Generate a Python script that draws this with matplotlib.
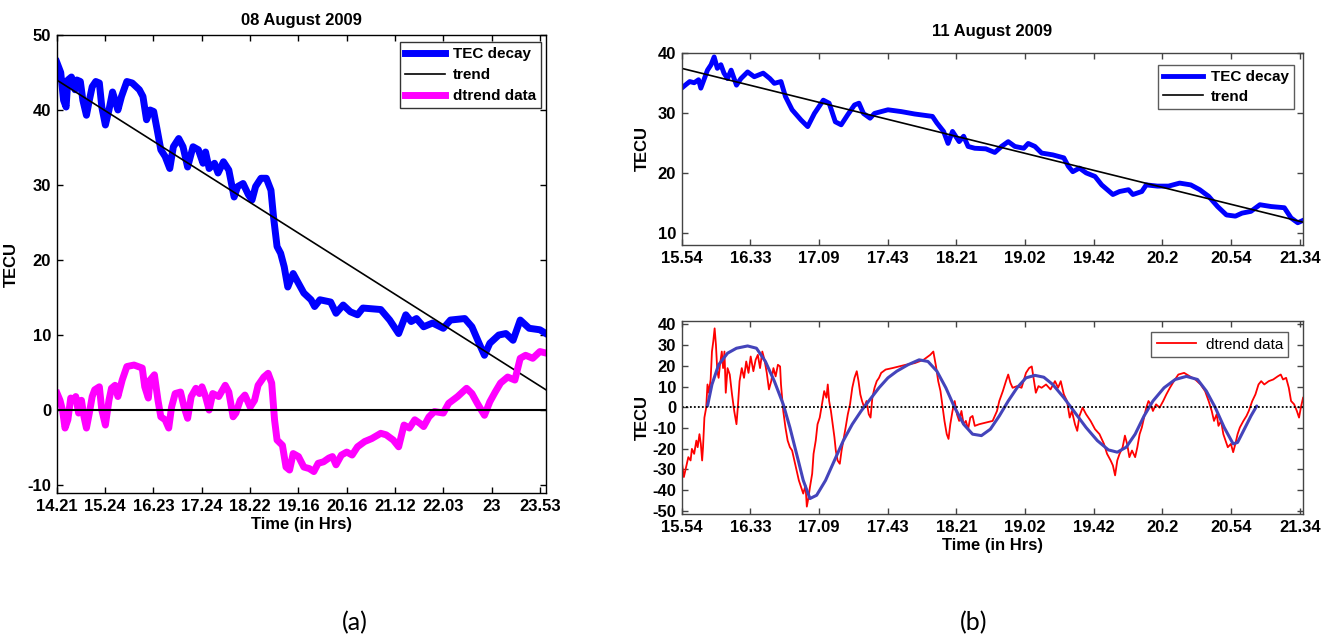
import numpy as np
import matplotlib.pyplot as plt

plt.rcParams['font.family'] = ['Liberation Sans', 'DejaVu Sans']
plt.rcParams['font.weight'] = 'bold'
plt.rcParams['axes.unicode_minus'] = False

# ---- 08 August 2009 (x in tick-index units) ----
ticks_a = ['14.21', '15.24', '16.23', '17.24', '18.22', '19.16', '20.16',
           '21.12', '22.03', '23', '23.53']

tec_a_t = [0.0, 0.083, 0.142, 0.194, 0.231, 0.305, 0.379, 0.416, 0.489, 0.541,
           0.615, 0.675, 0.734, 0.808, 0.882, 0.933, 1.007, 1.081, 1.155, 1.207,
           1.266, 1.340, 1.451, 1.562, 1.710, 1.784, 1.858, 1.932, 2.006, 2.080,
           2.154, 2.243, 2.339, 2.413, 2.524, 2.613, 2.708, 2.820, 2.930, 3.027,
           3.079, 3.153, 3.264, 3.337, 3.449, 3.560, 3.670, 3.744, 3.855, 3.966,
           4.040, 4.114, 4.225, 4.336, 4.432, 4.484, 4.558, 4.632, 4.706, 4.780,
           4.891, 5.001, 5.112, 5.261, 5.335, 5.445, 5.667, 5.778, 5.926, 6.074,
           6.222, 6.333, 6.703, 6.888, 7.073, 7.221, 7.332, 7.442, 7.590, 7.775,
           7.997, 8.145, 8.441, 8.589, 8.737, 8.848, 8.959, 9.144, 9.292, 9.440,
           9.588, 9.773, 9.995, 10.12]
tec_a = [46.4, 45.0, 41.3, 40.4, 44.0, 44.4, 42.7, 44.0, 43.8, 41.3,
         39.3, 41.3, 43.1, 43.8, 43.6, 40.4, 38.0, 40.0, 42.4, 41.3,
         40.0, 41.8, 43.8, 43.6, 42.7, 41.8, 38.7, 40.0, 39.8, 37.3,
         34.7, 33.8, 32.2, 35.1, 36.2, 35.1, 32.4, 35.1, 34.7, 32.9,
         34.4, 32.2, 32.9, 31.6, 33.1, 32.0, 28.4, 29.8, 30.2, 28.7,
         28.0, 29.8, 30.9, 30.9, 29.3, 25.8, 21.8, 20.9, 19.1, 16.4,
         18.2, 16.9, 15.6, 14.7, 13.8, 14.7, 14.4, 12.9, 14.0, 13.1,
         12.7, 13.6, 13.4, 12.0, 10.2, 12.7, 11.8, 12.2, 11.1, 11.6,
         10.9, 12.0, 12.2, 11.1, 8.9, 7.3, 8.9, 10.0, 10.2, 9.3,
         12.0, 10.9, 10.7, 10.2]

trend_a_t = [0.0, 10.12]
trend_a = [44.0, 2.7]

dtr_a_t = [0.01, 0.068, 0.12, 0.172, 0.231, 0.29, 0.342, 0.394, 0.453, 0.512,
           0.564, 0.615, 0.675, 0.734, 0.786, 0.882, 0.933, 1.007, 1.081, 1.133,
           1.207, 1.266, 1.355, 1.451, 1.599, 1.769, 1.821, 1.895, 1.932, 2.021,
           2.095, 2.154, 2.243, 2.317, 2.376, 2.450, 2.561, 2.635, 2.708, 2.782,
           2.879, 2.953, 3.005, 3.079, 3.153, 3.227, 3.352, 3.486, 3.560, 3.649,
           3.707, 3.796, 3.893, 4.003, 4.092, 4.166, 4.284, 4.373, 4.447, 4.506,
           4.558, 4.669, 4.743, 4.817, 4.891, 5.001, 5.112, 5.223, 5.319, 5.408,
           5.519, 5.630, 5.704, 5.778, 5.889, 6.0, 6.111, 6.222, 6.370, 6.518,
           6.703, 6.814, 6.962, 7.073, 7.184, 7.295, 7.407, 7.518, 7.59, 7.701,
           7.812, 7.997, 8.108, 8.293, 8.478, 8.589, 8.7, 8.848, 8.959, 9.07,
           9.181, 9.329, 9.477, 9.588, 9.699, 9.847, 9.995, 10.12]
dtr_a = [2.2, 1.3, 0.0, -2.4, -1.3, 1.6, 1.3, 1.8, -0.4, 1.3,
         -0.9, -2.4, -0.4, 1.8, 2.7, 3.1, 0.0, -2.0, 1.3, 2.9,
         3.3, 1.8, 4.0, 5.8, 6.0, 5.6, 3.1, 1.6, 4.0, 4.7,
         1.3, -0.9, -1.3, -2.4, 0.4, 2.2, 2.4, 0.4, -1.1, 1.8,
         2.9, 2.2, 3.1, 1.8, 0.0, 2.2, 1.8, 3.3, 2.4, -0.9,
         -0.4, 1.3, 2.0, 0.4, 1.3, 3.3, 4.4, 4.9, 3.6, -1.3,
         -4.0, -4.7, -7.6, -8.0, -5.8, -6.2, -7.6, -7.8, -8.2, -7.1,
         -6.9, -6.4, -6.2, -7.3, -6.0, -5.6, -6.0, -4.9, -4.2, -3.8,
         -3.1, -3.3, -4.0, -4.9, -2.0, -2.4, -1.3, -1.8, -2.2, -0.9,
         -0.2, -0.4, 0.9, 1.8, 2.9, 2.2, 0.9, -0.7, 1.1, 2.4,
         3.6, 4.4, 4.0, 6.9, 7.3, 6.9, 7.8, 7.6]

# ---- 11 August 2009 ----
ticks_b = ['15.54', '16.33', '17.09', '17.43', '18.21', '19.02', '19.42',
           '20.2', '20.54', '21.34']

tec_b_t = [0.0, 0.052, 0.117, 0.182, 0.246, 0.279, 0.331, 0.376, 0.428, 0.473,
           0.519, 0.571, 0.616, 0.668, 0.720, 0.798, 0.863, 0.960, 1.057, 1.187,
           1.284, 1.349, 1.446, 1.511, 1.608, 1.738, 1.835, 1.933, 2.062, 2.147,
           2.237, 2.322, 2.419, 2.516, 2.581, 2.646, 2.743, 2.808, 2.905, 3.003,
           3.197, 3.392, 3.651, 3.716, 3.813, 3.878, 3.943, 4.040, 4.105, 4.170,
           4.267, 4.429, 4.559, 4.656, 4.754, 4.851, 4.981, 5.045, 5.143, 5.240,
           5.402, 5.564, 5.629, 5.694, 5.791, 5.888, 6.018, 6.115, 6.278, 6.375,
           6.505, 6.569, 6.699, 6.764, 6.926, 7.088, 7.250, 7.412, 7.542, 7.672,
           7.802, 7.931, 8.061, 8.158, 8.288, 8.418, 8.580, 8.774, 8.872, 8.969,
           9.047]
tec_b = [34.1, 34.6, 35.2, 35.0, 35.5, 34.1, 35.7, 37.1, 38.0, 39.3,
         37.4, 38.0, 36.6, 35.7, 37.1, 34.6, 35.7, 36.8, 36.0, 36.6,
         35.7, 34.9, 35.2, 32.7, 30.5, 28.8, 27.7, 29.9, 32.1, 31.6,
         28.5, 28.0, 29.7, 31.3, 31.6, 29.9, 29.1, 29.9, 30.2, 30.5,
         30.2, 29.8, 29.4, 28.3, 26.9, 24.9, 26.9, 25.2, 26.1, 24.4,
         24.1, 24.0, 23.4, 24.4, 25.2, 24.4, 24.1, 24.9, 24.4, 23.3,
         23.0, 22.5, 21.1, 20.2, 20.8, 20.0, 19.4, 18.0, 16.4, 16.9,
         17.2, 16.4, 16.9, 18.0, 17.8, 17.8, 18.3, 18.0, 17.2, 16.1,
         14.4, 13.0, 12.8, 13.3, 13.6, 14.7, 14.4, 14.2, 12.5, 11.7,
         12.1]

trend_b_t = [0.0, 9.047]
trend_b = [37.4, 11.8]

dtr_b_t = [0.000, 0.032, 0.065, 0.097, 0.130, 0.149, 0.182, 0.214, 0.233, 0.259,
           0.279, 0.298, 0.311, 0.331, 0.357, 0.376, 0.396, 0.422, 0.441, 0.460,
           0.480, 0.499, 0.519, 0.538, 0.558, 0.584, 0.603, 0.623, 0.642, 0.668,
           0.700, 0.733, 0.765, 0.798, 0.817, 0.843, 0.875, 0.908, 0.940, 0.973,
           1.005, 1.044, 1.077, 1.109, 1.141, 1.174, 1.206, 1.239, 1.271, 1.304,
           1.336, 1.368, 1.401, 1.433, 1.446, 1.479, 1.511, 1.543, 1.576, 1.608,
           1.641, 1.673, 1.706, 1.738, 1.770, 1.803, 1.822, 1.848, 1.868, 1.900,
           1.920, 1.952, 1.978, 2.010, 2.043, 2.075, 2.108, 2.127, 2.147, 2.173,
           2.198, 2.224, 2.244, 2.270, 2.302, 2.328, 2.354, 2.387, 2.419, 2.451,
           2.484, 2.516, 2.549, 2.575, 2.601, 2.626, 2.659, 2.691, 2.724, 2.750,
           2.776, 2.808, 2.840, 2.873, 2.905, 2.970, 3.067, 3.165, 3.262, 3.392,
           3.521, 3.619, 3.664, 3.703, 3.735, 3.768, 3.800, 3.826, 3.859, 3.885,
           3.911, 3.943, 3.975, 4.008, 4.040, 4.073, 4.105, 4.137, 4.170, 4.202,
           4.235, 4.267, 4.332, 4.429, 4.527, 4.591, 4.624, 4.676, 4.721, 4.754,
           4.786, 4.818, 4.883, 4.948, 5.013, 5.058, 5.097, 5.130, 5.156, 5.195,
           5.240, 5.305, 5.370, 5.435, 5.480, 5.519, 5.564, 5.610, 5.649, 5.681,
           5.726, 5.759, 5.791, 5.837, 5.888, 5.953, 6.018, 6.083, 6.148, 6.193,
           6.245, 6.278, 6.310, 6.342, 6.375, 6.420, 6.453, 6.485, 6.518, 6.556,
           6.602, 6.634, 6.667, 6.699, 6.732, 6.764, 6.796, 6.829, 6.861, 6.907,
           6.958, 7.010, 7.056, 7.108, 7.166, 7.231, 7.315, 7.399, 7.477, 7.555,
           7.620, 7.672, 7.717, 7.750, 7.789, 7.815, 7.853, 7.886, 7.918, 7.951,
           7.996, 8.029, 8.061, 8.093, 8.126, 8.178, 8.223, 8.256, 8.307, 8.353,
           8.398, 8.437, 8.482, 8.547, 8.612, 8.677, 8.722, 8.755, 8.800, 8.839,
           8.872, 8.917, 8.956, 8.988, 9.014, 9.047]
dtr_b = [-25.7, -33.7, -28.9, -24.1, -25.7, -20.1, -22.5, -16.1, -19.3, -13.0,
         -17.7, -25.7, -19.3, -5.0, -0.2, 11.0, 7.0, 13.4, 26.9, 31.7,
         38.1, 30.1, 17.4, 14.2, 20.5, 26.9, 18.9, 26.9, 7.0, 18.9,
         15.8, 6.2, -1.8, -8.2, -0.2, 12.6, 18.9, 14.2, 22.1, 16.6,
         24.5, 17.4, 22.9, 25.3, 18.9, 26.9, 22.9, 16.6, 8.6, 12.6,
         18.9, 14.9, 20.5, 19.7, 11.0, -1.8, -9.8, -16.1, -19.3, -20.9,
         -25.7, -30.5, -35.3, -38.5, -41.7, -37.7, -48.0, -43.3, -38.5, -32.1,
         -22.5, -16.1, -8.2, -5.0, 1.4, 7.8, 4.6, 11.0, 3.0, -1.8,
         -8.2, -14.5, -20.9, -25.7, -27.3, -20.9, -16.1, -9.8, -3.4, 1.4,
         9.4, 14.2, 17.4, 12.6, 6.2, 3.0, -0.2, 3.0, -3.4, -5.0,
         4.6, 9.4, 12.6, 14.2, 16.6, 18.2, 18.9, 19.7, 20.5, 21.3,
         22.9, 25.3, 26.9, 19.7, 12.6, 7.8, -0.2, -6.6, -13.0, -15.3,
         -8.2, -1.8, 3.0, -3.4, -6.6, -1.8, -8.2, -6.6, -10.6, -5.0,
         -4.2, -9.0, -8.2, -7.4, -6.6, -1.8, 3.0, 7.8, 12.6, 15.8,
         11.8, 9.4, 10.2, 9.4, 16.6, 18.9, 19.7, 12.6, 7.0, 10.2,
         9.4, 11.0, 8.6, 12.6, 9.4, 12.6, 6.2, 3.0, -5.0, -1.8,
         -8.2, -11.4, -4.2, -0.2, -3.4, -6.6, -10.6, -13.0, -17.7, -22.5,
         -25.7, -28.1, -32.9, -25.7, -22.5, -19.3, -13.7, -17.7, -24.1, -20.9,
         -24.1, -19.3, -13.0, -9.8, -5.0, -0.2, 3.0, 1.4, -1.8, 1.4,
         -0.2, 3.0, 6.2, 9.4, 12.6, 15.8, 16.6, 14.9, 13.4, 11.0,
         7.8, 3.0, -1.8, -6.6, -3.4, -9.0, -6.6, -13.0, -16.1, -19.3,
         -17.7, -21.7, -17.7, -13.0, -9.8, -6.6, -4.2, -1.8, 3.0, 6.2,
         11.0, 12.6, 11.0, 12.6, 13.4, 14.9, 15.8, 13.4, 14.2, 9.4,
         3.0, 1.4, -1.8, -5.0, -0.2, 4.6]

fit_b_t = [0.376, 0.441, 0.538, 0.668, 0.798, 0.960, 1.089, 1.219, 1.349, 1.479,
           1.576, 1.673, 1.770, 1.868, 1.965, 2.095, 2.224, 2.354, 2.484, 2.613,
           2.743, 2.873, 3.003, 3.132, 3.294, 3.457, 3.586, 3.716, 3.846, 3.975,
           4.105, 4.235, 4.364, 4.494, 4.624, 4.754, 4.883, 5.013, 5.143, 5.272,
           5.402, 5.564, 5.726, 5.888, 6.051, 6.213, 6.342, 6.472, 6.602, 6.732,
           6.861, 7.023, 7.185, 7.348, 7.510, 7.639, 7.769, 7.899, 8.029, 8.093,
           8.191, 8.288, 8.372]
fit_b = [0.6, 11.0, 20.5, 26.1, 28.5, 29.6, 28.5, 22.1, 12.6, 1.4,
         -9.8, -22.5, -35.3, -44.1, -42.5, -35.3, -25.7, -16.1, -8.2, -1.8,
         3.8, 9.4, 14.2, 17.4, 20.5, 22.9, 22.1, 17.4, 9.4, -0.2,
         -8.2, -13.0, -13.7, -10.6, -4.2, 3.0, 9.4, 14.2, 15.4, 14.5,
         11.0, 4.6, -2.6, -9.8, -16.1, -20.6, -21.7, -19.3, -13.0, -4.2,
         3.0, 9.4, 13.4, 14.9, 13.4, 7.8, -0.2, -9.8, -17.7, -17.0,
         -10.6, -4.2, 0.6]

FS = 12


def style_axes(ax, edge):
    ax.tick_params(direction='in', top=True, right=True, length=4,
                   width=1, labelsize=FS, color=edge, pad=4)
    for s in ax.spines.values():
        s.set_color(edge)
        s.set_linewidth(1)
    for lab in ax.get_xticklabels() + ax.get_yticklabels():
        lab.set_fontweight('bold')


fig = plt.figure(figsize=(13.28, 6.42), dpi=100)

# (a) left panel
ax1 = fig.add_axes([0.0427, 0.2316, 0.3684, 0.7139])
ax1.plot(tec_a_t, tec_a, color='#0000ff', lw=5, solid_joinstyle='round',
         label='TEC decay')
ax1.plot(trend_a_t, trend_a, color='black', lw=1.2, label='trend')
ax1.plot(dtr_a_t, dtr_a, color='#ff00ff', lw=5, solid_joinstyle='round',
         label='dtrend data')
ax1.axhline(0, color='black', lw=1.5)
ax1.set_xlim(0, 10.12)
ax1.set_ylim(-11.1, 50)
ax1.set_xticks(range(len(ticks_a)))
ax1.set_xticklabels(ticks_a)
ax1.set_yticks(range(-10, 51, 10))
ax1.set_title('08 August 2009', fontsize=FS, fontweight='bold', pad=7)
ax1.set_xlabel('Time (in Hrs)', fontsize=FS, fontweight='bold', labelpad=2)
ax1.set_ylabel('TECU', fontsize=FS, fontweight='bold', labelpad=6)
style_axes(ax1, 'black')
leg = ax1.legend(loc='upper right', bbox_to_anchor=(0.99, 0.985),
                 borderaxespad=0, fancybox=False, handlelength=2.6,
                 borderpad=0.35, labelspacing=0.45, handletextpad=0.5,
                 prop={'weight': 'bold', 'size': 11})
leg.get_frame().set_edgecolor('black')
leg.get_frame().set_linewidth(1)

# (b) top panel
ax2 = fig.add_axes([0.5133, 0.6184, 0.4681, 0.2995])
ax2.plot(tec_b_t, tec_b, color='#0000ff', lw=3.5, solid_joinstyle='round',
         label='TEC decay')
ax2.plot(trend_b_t, trend_b, color='black', lw=1.2, label='trend')
ax2.set_xlim(0, 9.05)
ax2.set_ylim(8, 40)
ax2.set_xticks(range(len(ticks_b)))
ax2.set_xticklabels(ticks_b)
ax2.set_yticks([10, 20, 30, 40])
ax2.set_title('11 August 2009', fontsize=FS, fontweight='bold', pad=12)
ax2.set_ylabel('TECU', fontsize=FS, fontweight='bold', labelpad=6)
style_axes(ax2, '#444444')
leg = ax2.legend(loc='upper right', bbox_to_anchor=(0.985, 0.936),
                 borderaxespad=0, fancybox=False, handlelength=2.6,
                 borderpad=0.35, labelspacing=0.35, handletextpad=0.5,
                 prop={'weight': 'bold', 'size': 11})
leg.get_frame().set_edgecolor('#333333')
leg.get_frame().set_linewidth(1)

# (b) bottom panel
ax3 = fig.add_axes([0.5133, 0.1989, 0.4681, 0.3016])
ax3.plot(dtr_b_t, dtr_b, color='#ff0000', lw=1.3, label='dtrend data')
ax3.plot(fit_b_t, fit_b, color='#4444bb', lw=2.2, solid_joinstyle='round',
         solid_capstyle='round')
ax3.axhline(0, color='black', lw=1.3, ls=(0, (1, 1.2)))
ax3.set_xlim(0, 9.05)
ax3.set_ylim(-51.7, 41.8)
ax3.set_xticks(range(len(ticks_b)))
ax3.set_xticklabels(ticks_b)
ax3.set_yticks(range(-50, 41, 10))
ax3.set_xlabel('Time (in Hrs)', fontsize=FS, fontweight='bold', labelpad=2)
ax3.set_ylabel('TECU', fontsize=FS, fontweight='bold', labelpad=2)
style_axes(ax3, '#444444')
leg = ax3.legend(loc='upper right', bbox_to_anchor=(0.976, 0.94),
                 borderaxespad=0, fancybox=False, handlelength=2.6,
                 borderpad=0.35, handletextpad=0.6,
                 prop={'weight': 'normal', 'size': 11})
leg.get_frame().set_edgecolor('#333333')
leg.get_frame().set_linewidth(1)

fig.text(0.267, 0.012, '(a)', family=['Lato', 'DejaVu Sans'], fontsize=18,
         fontweight='normal', ha='center', va='bottom')
fig.text(0.733, 0.012, '(b)', family=['Lato', 'DejaVu Sans'], fontsize=18,
         fontweight='normal', ha='center', va='bottom')

fig.savefig('out.png', dpi=100)
